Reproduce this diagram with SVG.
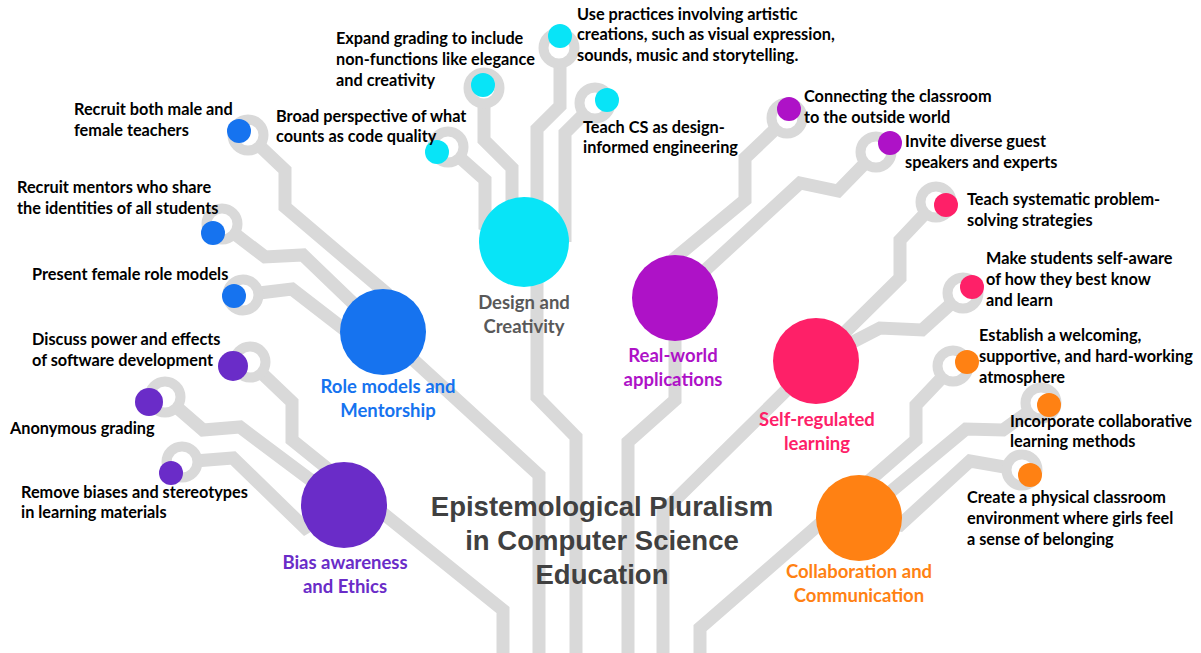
<svg xmlns="http://www.w3.org/2000/svg" width="1201" height="653" viewBox="0 0 1201 653">
  <style>
    .wire { fill: none; stroke: #D9D9D9; stroke-width: 13; stroke-linejoin: miter; stroke-linecap: butt; }
    .ring { fill: #FFFFFF; stroke: #D9D9D9; stroke-width: 10; }
    .lbl { font-family: Lato, "Liberation Sans", sans-serif; font-weight: 700; font-size: 16.3px; fill: #000000; }
    .hub { font-family: Lato, "Liberation Sans", sans-serif; font-weight: 700; font-size: 18.5px; text-anchor: middle; }
    .title { font-family: "Liberation Sans", Arial, sans-serif; font-weight: 700; font-size: 27.5px; fill: #404040; text-anchor: middle; }
    .cyan { fill: #08E4F7; }
    .blue { fill: #1673EF; }
    .violet { fill: #6A2CC8; }
    .magenta { fill: #AE12C7; }
    .pink { fill: #FE2068; }
    .orange { fill: #FF8113; }
  </style>
  <rect width="1201" height="653" fill="#FFFFFF"/>

  <!-- circuit traces -->
  <g id="connectors">
    <!-- Role models and Mentorship -->
    <path class="wire" d="M248,135 L285,170 L285,207 L385,292 L383,332"/>
    <path class="wire" d="M222,224 L265,257 L303,255 L383,332 L539,475 L539,653"/>
    <path class="wire" d="M243,295 L292,289 L345,330 L383,332"/>
    <!-- Bias awareness and Ethics -->
    <path class="wire" d="M250,362 L292,402 L292,440 L503,610 L503,653"/>
    <path class="wire" d="M165,397 L203,430 L240,427 L344,505"/>
    <path class="wire" d="M182,462 L233,458 L305,528 L344,505"/>
    <!-- Design and Creativity -->
    <path class="wire" d="M448,147 L485,180 L485,225 L524,242"/>
    <path class="wire" d="M484,88 L484,140 L512,168 L512,242"/>
    <path class="wire" d="M560,48 L560,106 L537,129 L537,397 L576,437 L576,653"/>
    <path class="wire" d="M595,103 L565,133 L565,242"/>
    <!-- Real-world applications -->
    <path class="wire" d="M787,118 L745,158 L745,200 L675,258 L675,400 L628,442 L628,653"/>
    <path class="wire" d="M876,152 L838,191 L800,183 L675,298"/>
    <!-- Self-regulated learning -->
    <path class="wire" d="M936,202 L900,240 L900,278 L663,512 L663,653"/>
    <path class="wire" d="M963,293 L922,330 L880,328 L816,361"/>
    <!-- Collaboration and Communication -->
    <path class="wire" d="M953,366 L916,405 L916,440 L700,628 L700,653"/>
    <path class="wire" d="M1041,403 L1003,430 L966,429 L859,518"/>
    <path class="wire" d="M1022,470 L970,461 L900,525 L859,518"/>
  </g>

  <!-- main topics -->
  <g id="hub-design">
    <circle class="cyan" cx="524" cy="242" r="45"/>
    <text class="hub" fill="#595959" x="524" y="309">Design and</text>
    <text class="hub" fill="#595959" x="524" y="333">Creativity</text>
  </g>
  <g id="hub-role">
    <circle class="blue" cx="383" cy="332" r="43"/>
    <text class="hub blue" x="388" y="393">Role models and</text>
    <text class="hub blue" x="388" y="417">Mentorship</text>
  </g>
  <g id="hub-bias">
    <circle class="violet" cx="344" cy="505" r="43"/>
    <text class="hub violet" x="345" y="569">Bias awareness</text>
    <text class="hub violet" x="345" y="593">and Ethics</text>
  </g>
  <g id="hub-realworld">
    <circle class="magenta" cx="675" cy="298" r="43"/>
    <text class="hub magenta" x="673" y="362">Real-world</text>
    <text class="hub magenta" x="673" y="386">applications</text>
  </g>
  <g id="hub-selfreg">
    <circle class="pink" cx="816" cy="361" r="43"/>
    <text class="hub pink" x="817" y="426">Self-regulated</text>
    <text class="hub pink" x="817" y="450">learning</text>
  </g>
  <g id="hub-collab">
    <circle class="orange" cx="859" cy="518" r="43"/>
    <text class="hub orange" x="859" y="578">Collaboration and</text>
    <text class="hub orange" x="859" y="602">Communication</text>
  </g>

  <!-- practices: Role models and Mentorship -->
  <g id="node-recruit-teachers">
    <circle class="ring" cx="248" cy="135" r="15.5"/>
    <circle class="blue" cx="239" cy="131" r="12"/>
    <text class="lbl" x="74" y="115">Recruit both male and</text>
    <text class="lbl" x="74" y="136">female teachers</text>
  </g>
  <g id="node-recruit-mentors">
    <circle class="ring" cx="222" cy="224" r="15.5"/>
    <circle class="blue" cx="213" cy="233" r="12"/>
    <text class="lbl" x="17" y="193">Recruit mentors who share</text>
    <text class="lbl" x="17" y="214">the identities of all students</text>
  </g>
  <g id="node-role-models">
    <circle class="ring" cx="243" cy="295" r="15.5"/>
    <circle class="blue" cx="234" cy="296" r="12"/>
    <text class="lbl" x="32" y="280">Present female role models</text>
  </g>

  <!-- practices: Bias awareness and Ethics -->
  <g id="node-power">
    <circle class="ring" cx="250" cy="362" r="15.5"/>
    <circle class="violet" cx="233" cy="366" r="15"/>
    <text class="lbl" x="32" y="345">Discuss power and effects</text>
    <text class="lbl" x="32" y="366">of software development</text>
  </g>
  <g id="node-anonymous">
    <circle class="ring" cx="165" cy="397" r="15.5"/>
    <circle class="violet" cx="149" cy="402" r="14"/>
    <text class="lbl" x="10" y="434">Anonymous grading</text>
  </g>
  <g id="node-stereotypes">
    <circle class="ring" cx="182" cy="462" r="15.5"/>
    <circle class="violet" cx="171" cy="473" r="12"/>
    <text class="lbl" x="21" y="498">Remove biases and stereotypes</text>
    <text class="lbl" x="21" y="518">in learning materials</text>
  </g>

  <!-- practices: Design and Creativity -->
  <g id="node-code-quality">
    <circle class="ring" cx="448" cy="147" r="15.5"/>
    <circle class="cyan" cx="437" cy="152" r="12"/>
    <text class="lbl" x="276" y="122">Broad perspective of what</text>
    <text class="lbl" x="276" y="142">counts as code quality</text>
  </g>
  <g id="node-grading">
    <circle class="ring" cx="484" cy="88" r="15.5"/>
    <circle class="cyan" cx="483" cy="85" r="12"/>
    <text class="lbl" x="336" y="44">Expand grading to include</text>
    <text class="lbl" x="336" y="65">non-functions like elegance</text>
    <text class="lbl" x="336" y="86">and creativity</text>
  </g>
  <g id="node-artistic">
    <circle class="ring" cx="559" cy="48" r="15.5"/>
    <circle class="cyan" cx="560" cy="36" r="12"/>
    <text class="lbl" x="577" y="20">Use practices involving artistic</text>
    <text class="lbl" x="577" y="40">creations, such as visual expression,</text>
    <text class="lbl" x="577" y="61">sounds, music and storytelling.</text>
  </g>
  <g id="node-design-engineering">
    <circle class="ring" cx="595" cy="103" r="15.5"/>
    <circle class="cyan" cx="607" cy="100" r="12"/>
    <text class="lbl" x="583" y="133">Teach CS as design-</text>
    <text class="lbl" x="583" y="153">informed engineering</text>
  </g>

  <!-- practices: Real-world applications -->
  <g id="node-outside-world">
    <circle class="ring" cx="787" cy="118" r="15.5"/>
    <circle class="magenta" cx="789" cy="109" r="12"/>
    <text class="lbl" x="804" y="102">Connecting the classroom</text>
    <text class="lbl" x="804" y="123">to the outside world</text>
  </g>
  <g id="node-guests">
    <circle class="ring" cx="876" cy="152" r="15.5"/>
    <circle class="magenta" cx="890" cy="143" r="12"/>
    <text class="lbl" x="905" y="147">Invite diverse guest</text>
    <text class="lbl" x="905" y="168">speakers and experts</text>
  </g>

  <!-- practices: Self-regulated learning -->
  <g id="node-problem-solving">
    <circle class="ring" cx="936" cy="202" r="15.5"/>
    <circle class="pink" cx="946" cy="205" r="12"/>
    <text class="lbl" x="967" y="205">Teach systematic problem-</text>
    <text class="lbl" x="967" y="226">solving strategies</text>
  </g>
  <g id="node-self-aware">
    <circle class="ring" cx="963" cy="293" r="15.5"/>
    <circle class="pink" cx="972" cy="287" r="12"/>
    <text class="lbl" x="986" y="264">Make students self-aware</text>
    <text class="lbl" x="986" y="285">of how they best know</text>
    <text class="lbl" x="986" y="306">and learn</text>
  </g>

  <!-- practices: Collaboration and Communication -->
  <g id="node-atmosphere">
    <circle class="ring" cx="953" cy="366" r="15.5"/>
    <circle class="orange" cx="967" cy="362" r="12"/>
    <text class="lbl" x="979" y="341">Establish a welcoming,</text>
    <text class="lbl" x="979" y="362">supportive, and hard-working</text>
    <text class="lbl" x="979" y="383">atmosphere</text>
  </g>
  <g id="node-collaborative">
    <circle class="ring" cx="1041" cy="403" r="15.5"/>
    <circle class="orange" cx="1049" cy="405" r="12"/>
    <text class="lbl" x="1010" y="427">Incorporate collaborative</text>
    <text class="lbl" x="1010" y="447">learning methods</text>
  </g>
  <g id="node-classroom">
    <circle class="ring" cx="1022" cy="470" r="15.5"/>
    <circle class="orange" cx="1030" cy="475" r="12"/>
    <text class="lbl" x="967" y="503">Create a physical classroom</text>
    <text class="lbl" x="967" y="524">environment where girls feel</text>
    <text class="lbl" x="967" y="545">a sense of belonging</text>
  </g>

  <!-- central heading -->
  <g id="title">
    <text class="title" x="602" y="516">Epistemological Pluralism</text>
    <text class="title" x="602" y="550">in Computer Science</text>
    <text class="title" x="602" y="584">Education</text>
  </g>
</svg>
